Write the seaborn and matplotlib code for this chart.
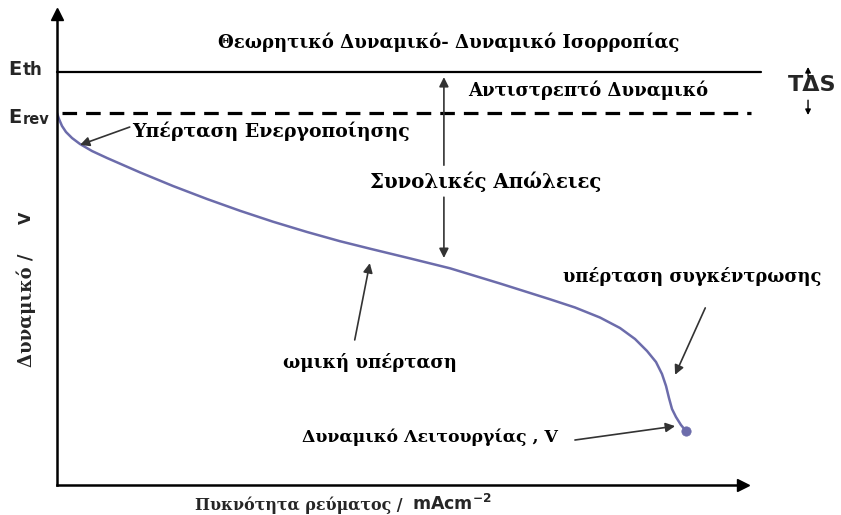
import pandas as pd
import matplotlib.pyplot as plt
import seaborn as sns

# Polarization curve, arbitrary units (current density 0-100, potential 0-100)
current = [0, 0.29, 0.73, 1.31, 2.19, 3.35, 5.10, 7.29, 12.10, 16.91, 21.87, 26.68,
           31.49, 36.44, 41.25, 45.63, 51.46, 57.29, 64.58, 71.87, 75.51, 79.15, 82.07,
           84.26, 86.01, 87.32, 88.19, 88.78, 89.21, 89.65, 90.23, 90.96, 91.69]
potential = [78.98, 77.71, 76.22, 74.95, 73.67, 72.40, 70.91, 69.43, 66.37, 63.48, 60.72, 58.22,
             55.90, 53.72, 51.76, 50.17, 48.11, 46.01, 42.78, 39.43, 37.69, 35.56, 33.33,
             31.00, 28.45, 26.11, 23.57, 21.02, 18.47, 16.14, 14.44, 12.74, 11.46]

E_th = 87.7   # theoretical potential
E_rev = 79.0  # reversible potential

df = pd.DataFrame({"j": current, "E": potential})

sns.set_theme(style="white")
serif = ["DejaVu Serif", "Liberation Serif"]
sans = ["DejaVu Sans", "Liberation Sans"]
plt.rcParams["font.family"] = serif
plt.rcParams["lines.scale_dashes"] = False
plt.rcParams["mathtext.fontset"] = "dejavusans"
plt.rcParams["mathtext.default"] = "bf"

fig = plt.figure(figsize=(8.41, 5.15), dpi=100)
ax = fig.add_axes([57 / 841, 30 / 515, 686 / 841, 471 / 515])
ax.set_xlim(0, 100)
ax.set_ylim(0, 100)

curve_color = "#6c6cab"
sns.lineplot(data=df, x="j", y="E", ax=ax, color=curve_color, linewidth=1.8, sort=False)
sns.scatterplot(data=df.tail(1), x="j", y="E", ax=ax, color=curve_color, s=45,
                edgecolor=curve_color, zorder=5)

# reference potential lines
ax.plot([0, 102.6], [E_th, E_th], color="black", linewidth=1.6, clip_on=False)
ax.plot([0.7, 101.2], [E_rev, E_rev], color="black", linewidth=2.3,
        dashes=(10.5, 6.5), clip_on=False)

# axes with arrow heads
for s in ["top", "right"]:
    ax.spines[s].set_visible(False)
for s in ["left", "bottom"]:
    ax.spines[s].set_color("black")
    ax.spines[s].set_linewidth(1.8)
ax.set_xticks([])
ax.set_yticks([])
ax.set_xlabel("")
ax.set_ylabel("")
ax.plot(1, 0, ">", color="black", markersize=8, transform=ax.transAxes, clip_on=False)
ax.plot(0, 1, "^", color="black", markersize=8, transform=ax.transAxes, clip_on=False)

bold = dict(fontweight="bold", color="black", ha="center", va="center")
ax.text(57.1, 94.1, "Θεωρητικό Δυναμικό- Δυναμικό Ισορροπίας", fontsize=13.1, **bold)
ax.text(77.4, 83.9, "Αντιστρεπτό Δυναμικό", fontsize=13.0, **bold)
ax.text(31.2, 75.2, "Υπέρταση Ενεργοποίησης", fontsize=13.6, **bold)
ax.text(62.5, 64.3, "Συνολικές Απώλειες", fontsize=14.2, **bold)
ax.text(92.6, 44.2, "υπέρταση συγκέντρωσης", fontsize=12.9, **bold)
ax.text(45.6, 26.1, "ωμική υπέρταση", fontsize=13.1, **bold)
ax.text(54.4, 10.2, "Δυναμικό Λειτουργίας , V", fontsize=12.4, **bold)

# arrows (tail -> tip)
arrow_kw = dict(arrowstyle="-|>", color="#333333", lw=1.2, mutation_scale=14,
                shrinkA=0, shrinkB=0)
arrows = [((10.6, 76.0), (3.35, 72.2)),
          ((56.4, 67.9), (56.4, 86.6)),
          ((56.4, 61.1), (56.4, 48.2)),
          ((43.4, 30.8), (45.6, 47.1)),
          ((94.5, 37.6), (90.1, 23.4)),
          ((75.5, 9.55), (90.1, 12.5))]
for tail, tip in arrows:
    ax.annotate("", xy=tip, xytext=tail, arrowprops=arrow_kw, annotation_clip=False)

# axis labels
xl = ax.text(50.4, -4.25, "Πυκνότητα ρεύματος /", ha="right", va="center",
             fontweight="bold", fontsize=11.4)
ax.annotate("mAcm$^{-2}$", xy=(1, 0), xycoords=xl, xytext=(7, 0), textcoords="offset points",
            va="bottom", ha="left", fontsize=12.5, fontweight="bold", family=sans)
yl = ax.text(-4.5, 25.05, "Δυναμικό /", rotation=90, ha="center", va="bottom",
             fontweight="bold", fontsize=13)
ax.annotate("V", xy=(0.5, 1), xycoords=yl, xytext=(0, 21), textcoords="offset points",
            va="bottom", ha="center", rotation=90, fontsize=11.5, fontweight="bold", family=sans)

# potential level labels
for sub, yv, sub_size in [("th", 87.05, 12), ("rev", 76.86, 10.5)]:
    t = ax.text(-7.14, yv, "E", ha="left", va="baseline", fontsize=14,
                fontweight="bold", family=sans)
    ax.annotate(sub, xy=(1, 0), xycoords=t, xytext=(1, 0), textcoords="offset points",
                va="bottom", ha="left", fontsize=sub_size, fontweight="bold", family=sans)

# T delta S marker
ax.text(110.06, 85.03, "TΔS", ha="center", va="center", fontsize=16, fontweight="bold",
        family=sans)
small_kw = dict(arrowstyle="-|>", color="black", lw=1.0, mutation_scale=8,
                shrinkA=0, shrinkB=0)
ax.annotate("", xy=(109.48, 88.75), xytext=(109.48, 86.8), arrowprops=small_kw,
            annotation_clip=False)
ax.annotate("", xy=(109.48, 78.55), xytext=(109.48, 81.7), arrowprops=small_kw,
            annotation_clip=False)

fig.savefig("out.png", dpi=100, facecolor="white")
